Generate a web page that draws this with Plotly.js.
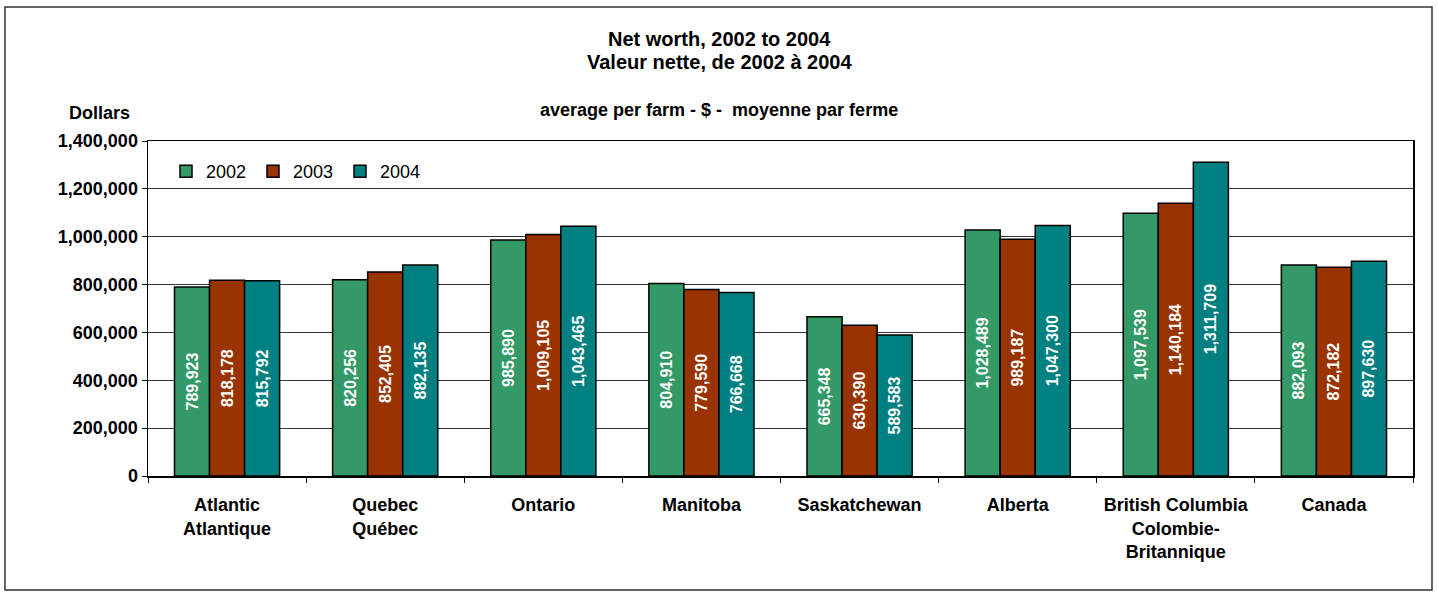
<!DOCTYPE html>
<html>
<head>
<meta charset="utf-8">
<script src="https://cdn.plot.ly/plotly-3.0.1.min.js"></script>
<style>
  html, body { margin: 0; padding: 0; background: #fff; }
  #chart { width: 1438px; height: 595px; }
</style>
</head>
<body>
<div id="chart"></div>
<script>
const categories = [
  "Atlantic<br>Atlantique",
  "Quebec<br>Québec",
  "Ontario",
  "Manitoba",
  "Saskatchewan",
  "Alberta",
  "British Columbia<br>Colombie-<br>Britannique",
  "Canada"
];
const seriesNames = ["2002", "2003", "2004"];
const values2002 = [789923, 820256, 985890, 804910, 665348, 1028489, 1097539, 882093];
const values2003 = [818178, 852405, 1009105, 779590, 630390, 989187, 1140184, 872182];
const values2004 = [815792, 882135, 1043465, 766668, 589583, 1047300, 1311709, 897630];
const yTickValues = [0, 200000, 400000, 600000, 800000, 1000000, 1200000, 1400000];

const colors = ["#339966", "#993300", "#008080"];
const FONT = "Arial, 'Liberation Sans', sans-serif";
const allValues = [values2002, values2003, values2004];

const traces = allValues.map((vals, i) => ({
  type: "bar",
  name: seriesNames[i],
  x: categories,
  y: vals,
  marker: { color: colors[i], line: { color: "#000", width: 1.5 } },
  texttemplate: "%{y:,}",
  textposition: "inside",
  insidetextanchor: "middle",
  textangle: -90,
  constraintext: "none",
  textfont: { family: FONT, size: 16, color: "#fff", weight: "bold" },
  hoverinfo: "x+y"
}));

// plot area pixel geometry
const L = 148, R = 25, T = 141, B = 119, W = 1438, H = 595;
const pw = W - L - R, ph = H - T - B;
const px = x => (x - L) / pw;
const py = y => (H - B - y) / ph;

const layout = {
  width: W, height: H,
  margin: { l: L, r: R, t: T, b: B, pad: 0 },
  paper_bgcolor: "#fff",
  plot_bgcolor: "#fff",
  font: { family: FONT, size: 18, color: "#000" },
  barmode: "group",
  bargap: 0.335,
  bargroupgap: 0,
  showlegend: true,
  legend: {
    orientation: "h",
    x: px(166), y: py(153), xanchor: "left", yanchor: "top",
    bgcolor: "rgba(0,0,0,0)",
    font: { family: FONT, size: 18, color: "#000" },
    entrywidth: 42, entrywidthmode: "pixels",
    itemwidth: 30,
    traceorder: "normal"
  },
  xaxis: {
    type: "category",
    tickson: "boundaries",
    ticks: "outside",
    ticklen: 5,
    tickcolor: "#000",
    ticklabelstandoff: 12,
    showline: true, linecolor: "#000", linewidth: 1.5,
    mirror: true,
    showgrid: false,
    tickfont: { family: FONT, size: 18, color: "#000", weight: "bold" },
    fixedrange: true
  },
  yaxis: {
    range: [0, 1400000],
    tickvals: yTickValues,
    tickformat: ",d",
    ticks: "outside",
    ticklen: 5,
    tickcolor: "#000",
    showline: true, linecolor: "#000", linewidth: 1.5,
    mirror: true,
    showgrid: true, gridcolor: "#333", gridwidth: 1,
    zeroline: false,
    tickfont: { family: FONT, size: 18, color: "#000", weight: "bold" },
    fixedrange: true
  },
  annotations: [
    {
      text: "Net worth, 2002 to 2004",
      xref: "paper", yref: "paper",
      x: px(719), y: py(39), xanchor: "center", yanchor: "middle",
      showarrow: false,
      font: { family: FONT, size: 20, color: "#000", weight: "bold" }
    },
    {
      text: "Valeur nette, de 2002 à 2004",
      xref: "paper", yref: "paper",
      x: px(719), y: py(62), xanchor: "center", yanchor: "middle",
      showarrow: false,
      font: { family: FONT, size: 20, color: "#000", weight: "bold" }
    },
    {
      text: "average per farm - $ -\u00a0 moyenne par ferme",
      xref: "paper", yref: "paper",
      x: px(719), y: py(110), xanchor: "center", yanchor: "middle",
      showarrow: false,
      font: { family: FONT, size: 18, color: "#000", weight: "bold" }
    },
    {
      text: "Dollars",
      xref: "paper", yref: "paper",
      x: px(99), y: py(113), xanchor: "center", yanchor: "middle",
      showarrow: false,
      font: { family: FONT, size: 18, color: "#000", weight: "bold" }
    }
  ],
  shapes: [
    {
      type: "rect", xref: "paper", yref: "paper",
      x0: px(5), x1: px(1432), y0: py(590), y1: py(7),
      line: { color: "#333", width: 1.5 },
      fillcolor: "rgba(0,0,0,0)",
      layer: "below"
    }
  ]
};

Plotly.newPlot("chart", traces, layout, { displayModeBar: false, staticPlot: true });
</script>
</body>
</html>
